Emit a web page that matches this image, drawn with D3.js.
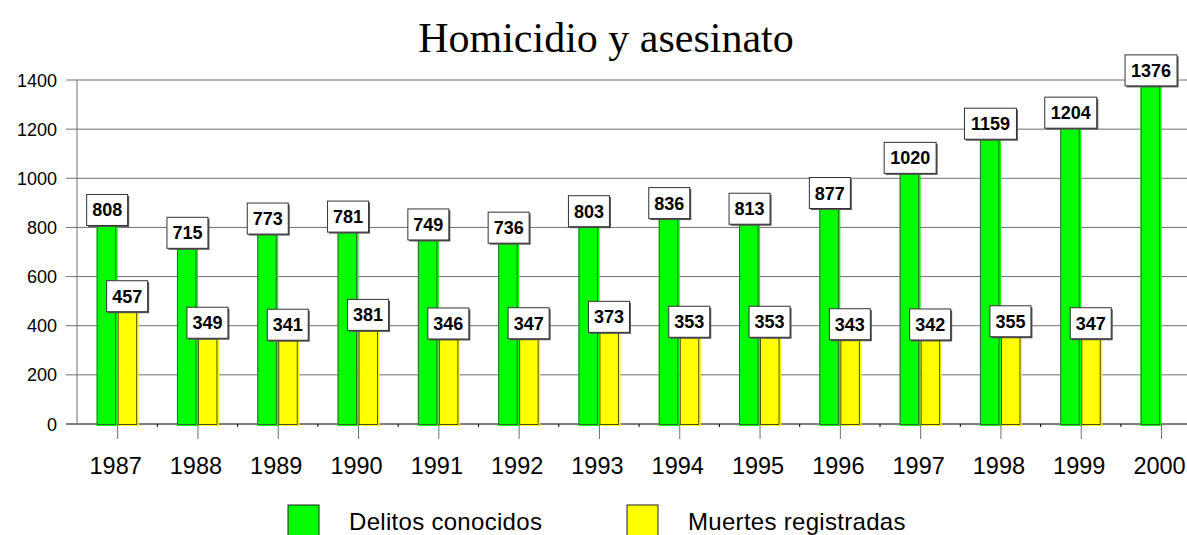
<!DOCTYPE html>
<html>
<head>
<meta charset="utf-8">
<script src="https://cdn.jsdelivr.net/npm/d3@7"></script>
<style>
  body { margin: 0; background: #fff; }
  svg { display: block; font-family: Arial, "Liberation Sans", sans-serif; }
  .grid line { stroke: #6e6e6e; stroke-width: 1; }
  .lbl-box { fill: #fff; stroke: #333; stroke-width: 1; }
  .lbl-shadow { fill: #555; }
  .lbl-text { font-weight: bold; font-size: 18px; fill: #000; }
</style>
</head>
<body>
<div id="chart"></div>
<script>
// --- data ---
const years = ['1987','1988','1989','1990','1991','1992','1993','1994','1995','1996','1997','1998','1999','2000'];
const delitos = [808, 715, 773, 781, 749, 736, 803, 836, 813, 877, 1020, 1159, 1204, 1376];
const muertes = [457, 349, 341, 381, 346, 347, 373, 353, 353, 343, 342, 355, 347, null];
const yTicks = [0, 200, 400, 600, 800, 1000, 1200, 1400];
const seriesNames = ['Delitos conocidos', 'Muertes registradas'];
const seriesColors = ['#00ff00', '#ffff00'];

const W = 1187, H = 535;
const svg = d3.select('#chart').append('svg')
  .attr('width', W)
  .attr('height', H);

// --- scales ---
const x = d3.scaleBand()
  .domain(years)
  .range([77, 77 + 14 * 80.3])
  .padding(0);

const y = d3.scaleLinear()
  .domain([0, 1400])
  .range([424, 80]);

const barW = 21;

// --- title ---
svg.append('text')
  .attr('x', 606)
  .attr('y', 52)
  .attr('text-anchor', 'middle')
  .style('font-family', '"Liberation Serif", "Times New Roman", serif')
  .style('font-size', '42px')
  .text('Homicidio y asesinato');

// --- gridlines + y labels ---
const grid = svg.append('g').attr('class', 'grid');
grid.selectAll('line')
  .data(yTicks)
  .enter().append('line')
  .attr('x1', 66)
  .attr('x2', W)
  .attr('y1', d => y(d))
  .attr('y2', d => y(d))
  .style('stroke', d => d === 0 ? '#000' : null);

svg.append('g').selectAll('text')
  .data(yTicks)
  .enter().append('text')
  .attr('x', 57)
  .attr('y', d => y(d) + 6.5)
  .attr('text-anchor', 'end')
  .style('font-size', '18px')
  .text(d => d);

// y axis line
svg.append('line')
  .attr('x1', 77).attr('x2', 77)
  .attr('y1', y(1400)).attr('y2', y(0))
  .style('stroke', '#6e6e6e');

// --- x ticks ---
const cx = d => x(d) + x.bandwidth() / 2 + 0.5;

svg.append('g').selectAll('line')
  .data(years)
  .enter().append('line')
  .attr('x1', d => x(d) + x.bandwidth())
  .attr('x2', d => x(d) + x.bandwidth())
  .attr('y1', y(0))
  .attr('y2', y(0) + 3)
  .style('stroke', '#000');

// --- bars ---
const bars = svg.append('g').attr('class', 'bars');

function drawSeries(vals, color, offset, edge) {
  const data = years.map((yr, i) => ({ yr, v: vals[i] })).filter(d => d.v != null);
  bars.selectAll(null)
    .data(data)
    .enter().append('rect')
    .attr('x', d => cx(d.yr) + offset)
    .attr('y', d => y(d.v))
    .attr('width', barW)
    .attr('height', d => y(0) - y(d.v) + 2)
    .style('fill', color);
  // darker outline, slightly offset like the original
  bars.selectAll(null)
    .data(data)
    .enter().append('rect')
    .attr('x', d => cx(d.yr) + offset + 0.5)
    .attr('y', d => y(d.v) + 0.5)
    .attr('width', barW - 2.5)
    .attr('height', d => y(0) - y(d.v))
    .style('fill', 'none')
    .style('stroke', edge)
    .style('stroke-width', 1);
}
drawSeries(delitos, seriesColors[0], -barW, '#2f6a2f');
drawSeries(muertes, seriesColors[1], 0, '#4a4a20');

// category ticks below axis
svg.append('g').selectAll('line')
  .data(years)
  .enter().append('line')
  .attr('x1', d => cx(d))
  .attr('x2', d => cx(d))
  .attr('y1', d => y(0))
  .attr('y2', y(0) + 15)
  .style('stroke', '#6e6e6e');

// x labels
svg.append('g').selectAll('text')
  .data(years)
  .enter().append('text')
  .attr('x', d => cx(d) - 2)
  .attr('y', 474)
  .attr('text-anchor', 'middle')
  .style('font-size', '23.5px')
  .text(d => d);

// --- value labels ---
const labels = svg.append('g');
function drawLabels(vals, offset) {
  const data = years.map((yr, i) => ({ yr, v: vals[i] })).filter(d => d.v != null);
  const g = labels.selectAll(null)
    .data(data)
    .enter().append('g')
    .attr('transform', d => `translate(${cx(d.yr) + offset}, ${y(d.v)})`);
  const bw = d => String(d.v).length > 3 ? 52 : 41;
  g.append('rect')
    .attr('class', 'lbl-shadow')
    .attr('x', d => -bw(d) / 2 + 1.5)
    .attr('y', -31 + 1.5)
    .attr('width', bw)
    .attr('height', 31);
  g.append('rect')
    .attr('class', 'lbl-box')
    .attr('x', d => -bw(d) / 2)
    .attr('y', -31)
    .attr('width', bw)
    .attr('height', 31);
  g.append('text')
    .attr('class', 'lbl-text')
    .attr('x', 0)
    .attr('y', -9)
    .attr('text-anchor', 'middle')
    .text(d => d.v);
}
drawLabels(delitos, -barW / 2);
drawLabels(muertes, barW / 2 - 1);

// --- legend ---
const legX = [288, 627];
const leg = svg.append('g').selectAll('g')
  .data(seriesNames)
  .enter().append('g')
  .attr('transform', (d, i) => `translate(${legX[i]}, 505)`);
leg.append('rect')
  .attr('width', 31)
  .attr('height', 32)
  .style('fill', (d, i) => seriesColors[i])
  .style('stroke', '#222')
  .style('stroke-width', 1);
leg.append('text')
  .attr('x', 61)
  .attr('y', 25)
  .style('font-size', '24px')
  .style('letter-spacing', '0.3px')
  .text(d => d);
</script>
</body>
</html>
